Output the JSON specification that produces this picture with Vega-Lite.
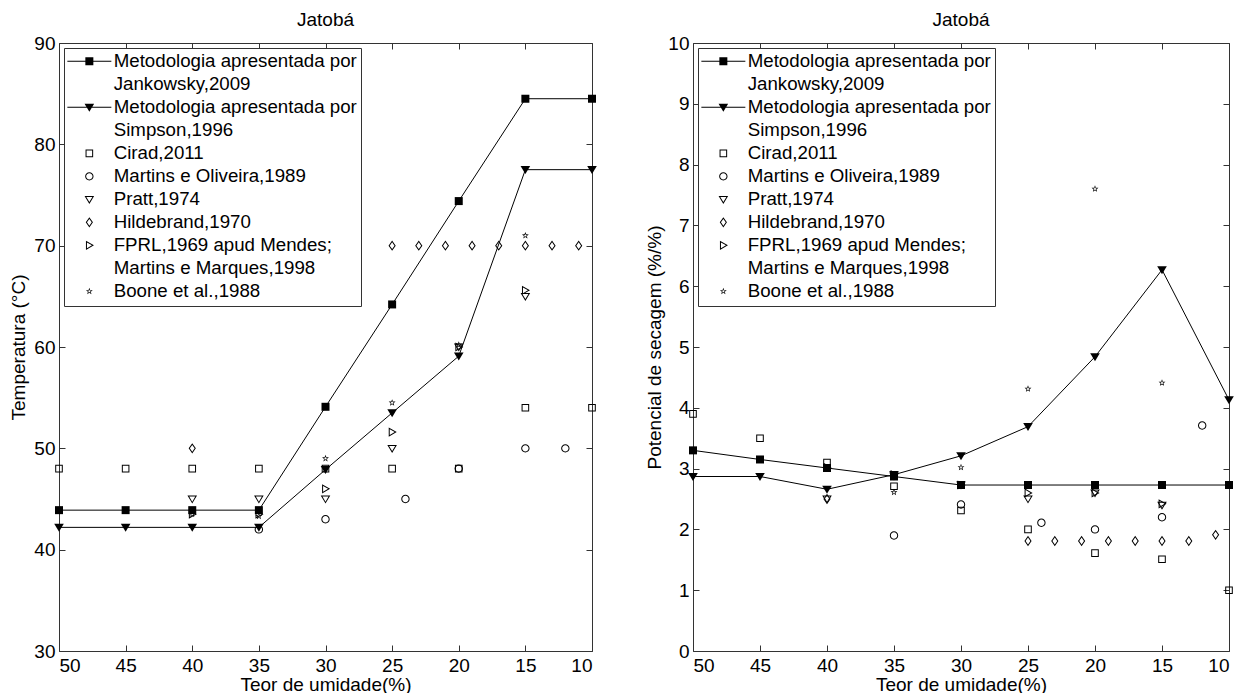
{
  "$schema": "https://vega.github.io/schema/vega-lite/v6.json",
  "padding": {"left": 9, "top": 10, "right": 4, "bottom": 0},
  "background": "white",
  "datasets": {
    "left": [
      {"s": "J", "u": 50, "v": 43.9}, {"s": "J", "u": 45, "v": 43.9}, {"s": "J", "u": 40, "v": 43.9}, {"s": "J", "u": 35, "v": 43.9}, {"s": "J", "u": 30, "v": 54.1}, {"s": "J", "u": 25, "v": 64.2}, {"s": "J", "u": 20, "v": 74.4}, {"s": "J", "u": 15, "v": 84.5}, {"s": "J", "u": 10, "v": 84.5},
      {"s": "S", "u": 50, "v": 42.2}, {"s": "S", "u": 45, "v": 42.2}, {"s": "S", "u": 40, "v": 42.2}, {"s": "S", "u": 35, "v": 42.2}, {"s": "S", "u": 30, "v": 47.9}, {"s": "S", "u": 25, "v": 53.5}, {"s": "S", "u": 20, "v": 59.1}, {"s": "S", "u": 15, "v": 77.5}, {"s": "S", "u": 10, "v": 77.5},
      {"s": "C", "u": 50, "v": 48}, {"s": "C", "u": 45, "v": 48}, {"s": "C", "u": 40, "v": 48}, {"s": "C", "u": 35, "v": 48}, {"s": "C", "u": 30, "v": 48}, {"s": "C", "u": 25, "v": 48}, {"s": "C", "u": 20, "v": 48}, {"s": "C", "u": 15, "v": 54}, {"s": "C", "u": 10, "v": 54},
      {"s": "MO", "u": 35, "v": 42}, {"s": "MO", "u": 30, "v": 43}, {"s": "MO", "u": 24, "v": 45}, {"s": "MO", "u": 20, "v": 48}, {"s": "MO", "u": 15, "v": 50}, {"s": "MO", "u": 12, "v": 50},
      {"s": "P", "u": 40, "v": 45}, {"s": "P", "u": 35, "v": 45}, {"s": "P", "u": 30, "v": 45}, {"s": "P", "u": 25, "v": 50}, {"s": "P", "u": 20, "v": 60}, {"s": "P", "u": 15, "v": 65},
      {"s": "H", "u": 40, "v": 50}, {"s": "H", "u": 25, "v": 70}, {"s": "H", "u": 23, "v": 70}, {"s": "H", "u": 21, "v": 70}, {"s": "H", "u": 19, "v": 70}, {"s": "H", "u": 17, "v": 70}, {"s": "H", "u": 15, "v": 70}, {"s": "H", "u": 13, "v": 70}, {"s": "H", "u": 11, "v": 70},
      {"s": "F", "u": 40, "v": 43.5}, {"s": "F", "u": 35, "v": 43.5}, {"s": "F", "u": 30, "v": 46}, {"s": "F", "u": 25, "v": 51.6}, {"s": "F", "u": 20, "v": 60}, {"s": "F", "u": 15, "v": 65.6},
      {"s": "B", "u": 40, "v": 43.5}, {"s": "B", "u": 35, "v": 43.3}, {"s": "B", "u": 30, "v": 49}, {"s": "B", "u": 25, "v": 54.5}, {"s": "B", "u": 20, "v": 60.2}, {"s": "B", "u": 15, "v": 71}
    ],
    "right": [
      {"s": "J", "u": 50, "v": 3.3}, {"s": "J", "u": 45, "v": 3.15}, {"s": "J", "u": 40, "v": 3.01}, {"s": "J", "u": 35, "v": 2.87}, {"s": "J", "u": 30, "v": 2.73}, {"s": "J", "u": 25, "v": 2.73}, {"s": "J", "u": 20, "v": 2.73}, {"s": "J", "u": 15, "v": 2.73}, {"s": "J", "u": 10, "v": 2.73},
      {"s": "S", "u": 50, "v": 2.87}, {"s": "S", "u": 45, "v": 2.87}, {"s": "S", "u": 40, "v": 2.66}, {"s": "S", "u": 35, "v": 2.9}, {"s": "S", "u": 30, "v": 3.21}, {"s": "S", "u": 25, "v": 3.69}, {"s": "S", "u": 20, "v": 4.84}, {"s": "S", "u": 15, "v": 6.27}, {"s": "S", "u": 10, "v": 4.13},
      {"s": "C", "u": 50, "v": 3.9}, {"s": "C", "u": 45, "v": 3.5}, {"s": "C", "u": 40, "v": 3.1}, {"s": "C", "u": 35, "v": 2.71}, {"s": "C", "u": 30, "v": 2.31}, {"s": "C", "u": 25, "v": 2.0}, {"s": "C", "u": 20, "v": 1.61}, {"s": "C", "u": 15, "v": 1.51}, {"s": "C", "u": 10, "v": 1.0},
      {"s": "MO", "u": 35, "v": 1.9}, {"s": "MO", "u": 30, "v": 2.41}, {"s": "MO", "u": 24, "v": 2.11}, {"s": "MO", "u": 20, "v": 2.0}, {"s": "MO", "u": 15, "v": 2.2}, {"s": "MO", "u": 12, "v": 3.71},
      {"s": "P", "u": 40, "v": 2.5}, {"s": "P", "u": 35, "v": 2.88}, {"s": "P", "u": 30, "v": 2.73}, {"s": "P", "u": 25, "v": 2.5}, {"s": "P", "u": 20, "v": 2.6}, {"s": "P", "u": 15, "v": 2.4},
      {"s": "H", "u": 40, "v": 2.5}, {"s": "H", "u": 25, "v": 1.81}, {"s": "H", "u": 23, "v": 1.81}, {"s": "H", "u": 21, "v": 1.81}, {"s": "H", "u": 19, "v": 1.81}, {"s": "H", "u": 17, "v": 1.81}, {"s": "H", "u": 15, "v": 1.81}, {"s": "H", "u": 13, "v": 1.81}, {"s": "H", "u": 11, "v": 1.91},
      {"s": "F", "u": 40, "v": 3.02}, {"s": "F", "u": 35, "v": 2.9}, {"s": "F", "u": 30, "v": 2.73}, {"s": "F", "u": 25, "v": 2.6}, {"s": "F", "u": 20, "v": 2.6}, {"s": "F", "u": 15, "v": 2.42},
      {"s": "B", "u": 35, "v": 2.61}, {"s": "B", "u": 30, "v": 3.02}, {"s": "B", "u": 25, "v": 4.31}, {"s": "B", "u": 20, "v": 7.6}, {"s": "B", "u": 15, "v": 4.41}
    ]
  },
  "config": {
    "font": "Liberation Sans",
    "view": {"stroke": "#333", "strokeWidth": 1},
    "style": {"guide-label": {"lineHeight": 23}},
    "axis": {"grid": false, "domain": false, "labelFontSize": 19, "titleFontSize": 19, "titleFontWeight": "normal", "labelColor": "#000", "titleColor": "#000", "tickColor": "#333", "tickSize": -6, "labelPadding": 10, "labelFont": "Liberation Sans", "titleFont": "Liberation Sans"},
    "title": {"fontSize": 19, "fontWeight": "normal", "color": "#000", "offset": 4, "font": "Liberation Sans"},
    "legend": {
      "orient": "top-left", "offset": 5, "title": null,
      "strokeColor": "#333", "fillColor": "white", "padding": 4,
      "labelFontSize": 18.7, "labelFont": "Liberation Sans", "labelColor": "#000", "labelLimit": 600, "rowPadding": 3,
      "symbolSize": 64, "symbolOffset": 12, "labelOffset": 15,
      "symbolFillColor": "black", "symbolStrokeWidth": 0, "symbolOpacity": 1
    }
  },
  "spacing": 47,
  "resolve": {"scale": {"shape": "independent"}, "legend": {"shape": "independent"}},
  "hconcat": [
    {
      "width": 533, "height": 608,
      "title": {"text": "Jatobá"},
      "data": {"name": "left"},
      "layer": [
        {
          "transform": [{"filter": "datum.s == 'J' || datum.s == 'S'"}],
          "mark": {"type": "line", "color": "black", "strokeWidth": 1},
          "encoding": {
            "x": {"field": "u", "type": "quantitative", "scale": {"domain": [10, 50], "reverse": true, "nice": false}, "axis": {"orient": "bottom", "values": [10, 15, 20, 25, 30, 35, 40, 45, 50], "title": "Teor de umidade(%)", "titlePadding": 0, "labelPadding": 11, "titleColor": "black"}},
            "y": {"field": "v", "type": "quantitative", "scale": {"domain": [30, 90], "nice": false, "zero": false}, "axis": {"orient": "left", "values": [30, 40, 50, 60, 70, 80, 90], "title": "Temperatura (°C)", "titlePadding": 5, "titleColor": "black"}},
            "detail": {"field": "s"}
          }
        },
        {
          "transform": [{"filter": "datum.s == 'J'"}],
          "mark": {"type": "point", "filled": true, "color": "black", "size": 64, "opacity": 1, "shape": "M-1,-1H1V1H-1Z"},
          "encoding": {
            "x": {"field": "u", "type": "quantitative", "axis": {"orient": "top", "values": [10, 15, 20, 25, 30, 35, 40, 45, 50], "labels": false, "title": null}},
            "y": {"field": "v", "type": "quantitative", "axis": {"orient": "right", "values": [30, 40, 50, 60, 70, 80, 90], "labels": false, "title": null}}
          }
        },
        {
          "transform": [{"filter": "datum.s == 'S'"}],
          "mark": {"type": "point", "filled": true, "color": "black", "size": 64, "opacity": 1, "shape": "M-1.2,-0.9H1.2L0,1.1Z"},
          "encoding": {
            "x": {"field": "u", "type": "quantitative", "axis": null},
            "y": {"field": "v", "type": "quantitative", "axis": null}
          }
        },
        {
          "transform": [{"filter": "datum.s != 'J' && datum.s != 'S'"}],
          "mark": {"type": "point", "filled": true, "color": "black", "size": 64, "opacity": 1},
          "encoding": {
            "x": {"field": "u", "type": "quantitative", "axis": null},
            "y": {"field": "v", "type": "quantitative", "axis": null},
            "shape": {
              "field": "s", "type": "nominal",
              "scale": {"domain": ["J", "S", "C", "MO", "P", "H", "F", "B"], "range": [
                "M-5.5,-0.125H5.5V0.125H-5.5ZM-1,-1H1V1H-1Z",
                "M-5.5,-0.125H5.5V0.125H-5.5ZM-1.2,-0.9H1.2L0,1.1Z",
                "M-0.95,-0.95H0.95V0.95H-0.95ZM-0.7,-0.7V0.7H0.7V-0.7Z",
                "M1.05,0A1.05,1.05 0 1,1 -1.05,0A1.05,1.05 0 1,1 1.05,0ZM0.8,0A0.8,0.8 0 1,0 -0.8,0A0.8,0.8 0 1,0 0.8,0Z",
                "M-1.2,-0.85H1.2L0,1.15ZM-0.758,-0.6L0,0.664L0.758,-0.6Z",
                "M0,-1.3L0.9,0L0,1.3L-0.9,0ZM0,-0.86L-0.596,0L0,0.86L0.596,0Z",
                "M-0.85,-1.15L1.15,0L-0.85,1.15ZM-0.6,-0.718L-0.6,0.718L0.648,0Z",
                "M0,-0.9L0.222,-0.306L0.856,-0.278L0.359,0.117L0.529,0.728L0,0.378L-0.529,0.728L-0.359,0.117L-0.856,-0.278L-0.222,-0.306ZM0,-0.45L-0.112,-0.153L-0.428,-0.14L-0.18,0.059L-0.265,0.365L0,0.189L0.265,0.365L0.18,0.059L0.428,-0.14L0.112,-0.153Z"
              ]},
              "legend": {
                "symbolOpacity": 1,
                "labelExpr": "datum.value == 'J' ? ['Metodologia apresentada por', 'Jankowsky,2009'] : datum.value == 'S' ? ['Metodologia apresentada por', 'Simpson,1996'] : datum.value == 'C' ? 'Cirad,2011' : datum.value == 'MO' ? 'Martins e Oliveira,1989' : datum.value == 'P' ? 'Pratt,1974' : datum.value == 'H' ? 'Hildebrand,1970' : datum.value == 'F' ? ['FPRL,1969 apud Mendes;', 'Martins e Marques,1998'] : 'Boone et al.,1988'"
              }
            }
          }
        }
      ]
    },
    {
      "width": 536, "height": 608,
      "title": {"text": "Jatobá"},
      "data": {"name": "right"},
      "layer": [
        {
          "transform": [{"filter": "datum.s == 'J' || datum.s == 'S'"}],
          "mark": {"type": "line", "color": "black", "strokeWidth": 1},
          "encoding": {
            "x": {"field": "u", "type": "quantitative", "scale": {"domain": [10, 50], "reverse": true, "nice": false}, "axis": {"orient": "bottom", "values": [10, 15, 20, 25, 30, 35, 40, 45, 50], "title": "Teor de umidade(%)", "titlePadding": 0, "labelPadding": 11, "titleColor": "black"}},
            "y": {"field": "v", "type": "quantitative", "scale": {"domain": [0, 10], "nice": false}, "axis": {"orient": "left", "values": [0, 1, 2, 3, 4, 5, 6, 7, 8, 9, 10], "title": "Potencial de secagem (%/%)", "titlePadding": 3, "titleColor": "black"}},
            "detail": {"field": "s"}
          }
        },
        {
          "transform": [{"filter": "datum.s == 'J'"}],
          "mark": {"type": "point", "filled": true, "color": "black", "size": 64, "opacity": 1, "shape": "M-1,-1H1V1H-1Z"},
          "encoding": {
            "x": {"field": "u", "type": "quantitative", "axis": {"orient": "top", "values": [10, 15, 20, 25, 30, 35, 40, 45, 50], "labels": false, "title": null}},
            "y": {"field": "v", "type": "quantitative", "axis": {"orient": "right", "values": [0, 1, 2, 3, 4, 5, 6, 7, 8, 9, 10], "labels": false, "title": null}}
          }
        },
        {
          "transform": [{"filter": "datum.s == 'S'"}],
          "mark": {"type": "point", "filled": true, "color": "black", "size": 64, "opacity": 1, "shape": "M-1.2,-0.9H1.2L0,1.1Z"},
          "encoding": {
            "x": {"field": "u", "type": "quantitative", "axis": null},
            "y": {"field": "v", "type": "quantitative", "axis": null}
          }
        },
        {
          "transform": [{"filter": "datum.s != 'J' && datum.s != 'S'"}],
          "mark": {"type": "point", "filled": true, "color": "black", "size": 64, "opacity": 1},
          "encoding": {
            "x": {"field": "u", "type": "quantitative", "axis": null},
            "y": {"field": "v", "type": "quantitative", "axis": null},
            "shape": {
              "field": "s", "type": "nominal",
              "scale": {"domain": ["J", "S", "C", "MO", "P", "H", "F", "B"], "range": [
                "M-5.5,-0.125H5.5V0.125H-5.5ZM-1,-1H1V1H-1Z",
                "M-5.5,-0.125H5.5V0.125H-5.5ZM-1.2,-0.9H1.2L0,1.1Z",
                "M-0.95,-0.95H0.95V0.95H-0.95ZM-0.7,-0.7V0.7H0.7V-0.7Z",
                "M1.05,0A1.05,1.05 0 1,1 -1.05,0A1.05,1.05 0 1,1 1.05,0ZM0.8,0A0.8,0.8 0 1,0 -0.8,0A0.8,0.8 0 1,0 0.8,0Z",
                "M-1.2,-0.85H1.2L0,1.15ZM-0.758,-0.6L0,0.664L0.758,-0.6Z",
                "M0,-1.3L0.9,0L0,1.3L-0.9,0ZM0,-0.86L-0.596,0L0,0.86L0.596,0Z",
                "M-0.85,-1.15L1.15,0L-0.85,1.15ZM-0.6,-0.718L-0.6,0.718L0.648,0Z",
                "M0,-0.9L0.222,-0.306L0.856,-0.278L0.359,0.117L0.529,0.728L0,0.378L-0.529,0.728L-0.359,0.117L-0.856,-0.278L-0.222,-0.306ZM0,-0.45L-0.112,-0.153L-0.428,-0.14L-0.18,0.059L-0.265,0.365L0,0.189L0.265,0.365L0.18,0.059L0.428,-0.14L0.112,-0.153Z"
              ]},
              "legend": {
                "symbolOpacity": 1,
                "labelExpr": "datum.value == 'J' ? ['Metodologia apresentada por', 'Jankowsky,2009'] : datum.value == 'S' ? ['Metodologia apresentada por', 'Simpson,1996'] : datum.value == 'C' ? 'Cirad,2011' : datum.value == 'MO' ? 'Martins e Oliveira,1989' : datum.value == 'P' ? 'Pratt,1974' : datum.value == 'H' ? 'Hildebrand,1970' : datum.value == 'F' ? ['FPRL,1969 apud Mendes;', 'Martins e Marques,1998'] : 'Boone et al.,1988'"
              }
            }
          }
        }
      ]
    }
  ]
}
